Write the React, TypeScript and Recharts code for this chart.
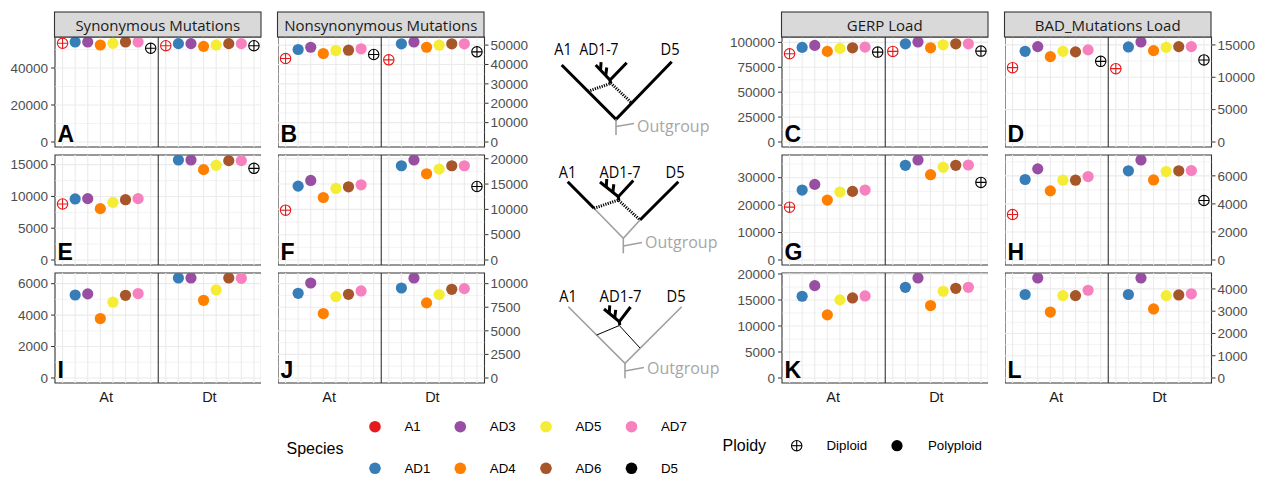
import React from "react";
import { ScatterChart, Scatter, XAxis, YAxis, ReferenceLine, ReferenceArea } from "recharts";

// ---------- data ----------
const species = ["A1", "AD1", "AD3", "AD4", "AD5", "AD6", "AD7", "D5"];
const speciesColors = ["#E41A1C", "#377EB8", "#984EA3", "#FF7F00", "#F5EC36", "#A65628", "#F781BF", "#000000"];
const diploidSpecies = ["A1", "D5"];
const subgenomes = ["At", "Dt"];
const columnTitles = ["Synonymous Mutations", "Nonsynonymous Mutations", "GERP Load", "BAD_Mutations Load"];
const panelLetters = ["A", "B", "C", "D", "E", "F", "G", "H", "I", "J", "K", "L"];

// values in species order (A1, AD1, AD3, AD4, AD5, AD6, AD7, D5); null = not shown
const A_At = [53350, 54050, 54050, 52430, 53350, 54050, 54050, 50650];
const A_Dt = [52050, 53150, 53150, 51700, 52430, 53150, 53150, 52050];
const B_At = [43070, 47720, 48900, 45660, 47200, 47360, 48090, 45140];
const B_Dt = [42400, 50670, 51600, 48900, 49950, 50670, 50670, 46530];
const C_At = [88570, 94980, 96990, 90970, 93980, 94580, 95290, 90270];
const C_Dt = [90970, 98600, 100400, 94580, 97590, 98600, 98600, 91270];
const D_At = [11490, 14010, 14740, 13190, 14010, 13920, 14230, 12460];
const D_Dt = [11330, 14690, 15450, 14120, 14630, 14740, 14740, 12680];
const E_At = [8810, 9600, 9650, 8080, 9070, 9490, 9650, null];
const E_Dt = [null, 15730, 15730, 14210, 14900, 15630, 15630, 14420];
const F_At = [9840, 14590, 15710, 12340, 14130, 14460, 14850, null];
const F_Dt = [null, 18610, 19750, 17030, 17950, 18610, 18610, 14520];
const G_At = [19270, 25490, 27560, 21830, 24760, 25000, 25490, null];
const G_Dt = [null, 34510, 36450, 31100, 33780, 34510, 34630, 28290];
const H_At = [3240, 5740, 6500, 4930, 5690, 5690, 5950, null];
const H_Dt = [null, 6360, 7130, 5710, 6310, 6360, 6380, 4240];
const I_At = [null, 5280, 5350, 3780, 4820, 5260, 5370, null];
const I_Dt = [null, 6360, 6360, 4940, 5600, 6360, 6340, null];
const J_At = [null, 8980, 10070, 6830, 8630, 8870, 9230, null];
const J_Dt = [null, 9540, 10600, 7960, 8840, 9400, 9470, null];
const K_At = [null, 15720, 17760, 12140, 15020, 15400, 15780, null];
const K_Dt = [null, 17440, 19230, 13930, 16680, 17250, 17440, null];
const L_At = [null, 3750, 4490, 2960, 3700, 3700, 3940, null];
const L_Dt = [null, 3750, 4490, 3100, 3700, 3730, 3780, null];

const ticksA = [0, 20000, 40000];
const ticksB = [0, 10000, 20000, 30000, 40000, 50000];
const ticksC = [0, 25000, 50000, 75000, 100000];
const ticksD = [0, 5000, 10000, 15000];
const ticksE = [0, 5000, 10000, 15000];
const ticksF = [0, 5000, 10000, 15000, 20000];
const ticksG = [0, 10000, 20000, 30000];
const ticksH = [0, 2000, 4000, 6000];
const ticksI = [0, 2000, 4000, 6000];
const ticksJ = [0, 2500, 5000, 7500, 10000];
const ticksK = [0, 5000, 10000, 15000, 20000];
const ticksL = [0, 1000, 2000, 3000, 4000];

const panels = [
  { at: A_At, dt: A_Dt, ticks: ticksA }, { at: B_At, dt: B_Dt, ticks: ticksB },
  { at: C_At, dt: C_Dt, ticks: ticksC }, { at: D_At, dt: D_Dt, ticks: ticksD },
  { at: E_At, dt: E_Dt, ticks: ticksE }, { at: F_At, dt: F_Dt, ticks: ticksF },
  { at: G_At, dt: G_Dt, ticks: ticksG }, { at: H_At, dt: H_Dt, ticks: ticksH },
  { at: I_At, dt: I_Dt, ticks: ticksI }, { at: J_At, dt: J_Dt, ticks: ticksJ },
  { at: K_At, dt: K_Dt, ticks: ticksK }, { at: L_At, dt: L_Dt, ticks: ticksL },
];

// ---------- layout ----------
const colLefts = [54.5, 277.5, 781.5, 1004.5];
const axisSide = ["left", "right", "left", "right"];
const axisW = [52, 52, 58, 56];
const panelW = 206.5;
const panelH = 110;
const PAD = 10;
const rowTops = [37, 155, 273.3];
const DT_OFFSET = 8.2;
const X_DOMAIN = [-0.6, 15.8];
const SANS = "'Liberation Sans', Arial, Helvetica, sans-serif";
const HUMAN = "'Open Sans', 'Noto Sans', sans-serif";
const BORDER = "#333333";
const GRID = "#EBEBEB";

function Marker({ cx, cy, color, dip }) {
  if (cx == null || cy == null) return null;
  if (dip) {
    const r = 5.2;
    return (
      <g>
        <circle cx={cx} cy={cy} r={r} fill="none" stroke={color} strokeWidth={1.1} />
        <line x1={cx - r} y1={cy} x2={cx + r} y2={cy} stroke={color} strokeWidth={1.1} />
        <line x1={cx} y1={cy - r} x2={cx} y2={cy + r} stroke={color} strokeWidth={1.1} />
      </g>
    );
  }
  return <circle cx={cx} cy={cy} r={5.6} fill={color} />;
}

function Panel({ idx }) {
  const cfg = panels[idx];
  const col = idx % 4;
  const row = Math.floor(idx / 4);
  const side = axisSide[col];
  const aw = axisW[col];
  const all = [...cfg.at, ...cfg.dt].filter((v) => v != null);
  const M = Math.max(...all);
  const lo = -0.05 * M;
  const hi = 1.05 * M;
  const step = cfg.ticks[1] - cfg.ticks[0];
  const minor = [];
  for (let v = step / 2; v <= hi; v += step) minor.push(v);
  const xCats = [...species.map((_, i) => i), ...species.map((_, i) => i + DT_OFFSET)];
  const left = side === "left" ? colLefts[col] - aw : colLefts[col];
  return (
    <div style={{ position: "absolute", left, top: rowTops[row] - PAD, width: aw + panelW, height: panelH + 2 * PAD }}>
      <ScatterChart width={aw + panelW} height={panelH + 2 * PAD} margin={{ top: PAD, right: 0, bottom: PAD, left: 0 }}>
        <XAxis type="number" dataKey="x" domain={X_DOMAIN} hide allowDataOverflow />
        <YAxis
          type="number"
          dataKey="y"
          domain={[lo, hi]}
          allowDataOverflow
          ticks={cfg.ticks}
          interval={0}
          orientation={side}
          width={aw}
          axisLine={false}
          tickLine={{ stroke: BORDER, strokeWidth: 1 }}
          tickSize={4}
          tickMargin={side === "left" ? 3 : 2}
          tickFormatter={(v) => String(v)}
          tick={{ fontSize: 13.5, fill: "#4D4D4D", fontFamily: SANS }}
        />
        {minor.map((v) => (
          <ReferenceLine key={"mi" + v} y={v} stroke={GRID} strokeWidth={0.6} />
        ))}
        {cfg.ticks.map((v) => (
          <ReferenceLine key={"ma" + v} y={v} stroke={GRID} strokeWidth={1.1} />
        ))}
        {xCats.map((v) => (
          <ReferenceLine key={"x" + v} x={v} stroke={GRID} strokeWidth={1.1} />
        ))}
        {species.map((sp, i) => {
          const pts = [];
          if (cfg.at[i] != null) pts.push({ x: i, y: cfg.at[i] });
          if (cfg.dt[i] != null) pts.push({ x: i + DT_OFFSET, y: cfg.dt[i] });
          const color = speciesColors[i];
          const dip = diploidSpecies.includes(sp);
          return (
            <Scatter
              key={sp}
              name={sp}
              data={pts}
              fill={color}
              isAnimationActive={false}
              shape={(p) => <Marker cx={p.cx} cy={p.cy} color={color} dip={dip} />}
            />
          );
        })}
        <ReferenceLine x={7.6} stroke={BORDER} strokeWidth={1.1} ifOverflow="visible" />
        <ReferenceArea
          x1={X_DOMAIN[0]}
          x2={X_DOMAIN[1]}
          y1={lo}
          y2={hi}
          fill="none"
          fillOpacity={0}
          stroke={BORDER}
          strokeWidth={1.1}
          ifOverflow="visible"
        />
      </ScatterChart>
    </div>
  );
}

function Trees() {
  const blk = { stroke: "#000", strokeWidth: 3, fill: "none", strokeLinecap: "butt" };
  const dot = { stroke: "#000", strokeWidth: 3, fill: "none", strokeDasharray: "1.2 1.2" };
  const gry = { stroke: "#A0A0A0", strokeWidth: 1.6, fill: "none" };
  const thin = { stroke: "#000", strokeWidth: 1, fill: "none" };
  const lab = { fontFamily: HUMAN, fontSize: 15.5, fill: "#000", textAnchor: "middle", dominantBaseline: "central", lengthAdjust: "spacingAndGlyphs" };
  const out = { fontFamily: HUMAN, fontSize: 16, fill: "#A6A6A6", dominantBaseline: "central" };
  const clade = (nx, ny, lx, ly, rx, ry) => {
    const t1x = nx + (lx - nx) * 0.66, t1y = ny + (ly - ny) * 0.66;
    const t2x = nx + (lx - nx) * 0.3, t2y = ny + (ly - ny) * 0.3;
    return (
      <g>
        <path d={`M${lx},${ly} L${nx},${ny} L${rx},${ry}`} {...blk} />
        <path d={`M${t1x},${t1y} L${t1x + 0.5},${t1y - 8}`} {...blk} />
        <path d={`M${t2x},${t2y} L${t2x + 1},${t2y - 8}`} {...blk} />
        <path d={`M${nx},${ny} L${nx + 0.5},${ny + 3.5}`} {...blk} />
      </g>
    );
  };
  return (
    <g>
      {/* tree 1 */}
      <text x={563} y={49} textLength={17.5} {...lab}>A1</text>
      <text x={599} y={49} textLength={39} {...lab}>AD1-7</text>
      <text x={670} y={49} textLength={19} {...lab}>D5</text>
      <path d="M561.7,65 L616,119.3 L671.7,61.7" {...blk} />
      <path d="M616,119.3 L616,135" {...gry} />
      <path d="M616,126.5 L634,123.5" {...gry} />
      <text x={637} y={126} {...out}>Outgroup</text>
      {clade(610, 80, 595.7, 65, 626.7, 62.7)}
      <path d="M588,91.3 L611,83.3 L631.7,103" {...dot} />

      {/* tree 2 */}
      <text x={567.5} y={172} textLength={17.5} {...lab}>A1</text>
      <text x={620} y={172} textLength={41} {...lab}>AD1-7</text>
      <text x={675} y={172} textLength={19} {...lab}>D5</text>
      <path d="M567.7,181.7 L594,208.3" {...blk} />
      <path d="M678.3,181.7 L640,220" {...blk} />
      <path d="M594,208.3 L623.3,238.3 L640,220" {...gry} />
      <path d="M623.3,238.3 L623.3,253.3" {...gry} />
      <path d="M623.3,246 L642,242.5" {...gry} />
      <text x={645} y={242} {...out}>Outgroup</text>
      {clade(618.3, 196.7, 600, 182, 633.3, 180.5)}
      <path d="M594,208.3 L618.3,200 L640,220" {...dot} />

      {/* tree 3 */}
      <text x={568} y={296} textLength={17.5} {...lab}>A1</text>
      <text x={620.5} y={296} textLength={42} {...lab}>AD1-7</text>
      <text x={676} y={296} textLength={19} {...lab}>D5</text>
      <path d="M568.3,306.7 L625,363.3 L681.7,306.7" {...gry} />
      <path d="M625,363.3 L625,378.3" {...gry} />
      <path d="M625,371 L644,367.5" {...gry} />
      <text x={647} y={368} {...out}>Outgroup</text>
      {clade(619.3, 321.7, 604, 309, 630.5, 307)}
      <path d="M596.7,335 L619.3,325.5 L640,348" {...thin} />
    </g>
  );
}

function Overlay() {
  const legendRows = [426.7, 468.3];
  const legendColX = [375, 460.3, 546, 631.5];
  return (
    <svg width={1265} height={477} style={{ position: "absolute", left: 0, top: 0, pointerEvents: "none" }}>
      {/* strips */}
      {columnTitles.map((t, c) => (
        <g key={t}>
          <rect x={colLefts[c]} y={12} width={panelW} height={25} fill="#D9D9D9" stroke={BORDER} strokeWidth={1.1} />
          <text
            x={colLefts[c] + panelW / 2}
            y={25}
            textAnchor="middle"
            dominantBaseline="central"
            fontFamily={HUMAN}
            fontSize={15}
            fill="#1A1A1A"
          >
            {t}
          </text>
        </g>
      ))}
      {/* panel letters */}
      {panelLetters.map((l, i) => {
        const c = i % 4;
        const r = Math.floor(i / 4);
        return (
          <text key={l} x={colLefts[c] + 3} y={rowTops[r] + panelH - 5.5} fontFamily={SANS} fontWeight="bold" fontSize={23} fill="#000">
            {l}
          </text>
        );
      })}
      {/* subgenome labels */}
      {colLefts.map((cl, c) =>
        subgenomes.map((s, k) => (
          <text key={c + s} x={cl + (panelW * (1 + 2 * k)) / 4} y={401.5} textAnchor="middle" fontFamily={SANS} fontSize={14.5} fill="#1A1A1A">
            {s}
          </text>
        ))
      )}
      <Trees />
      {/* legend: species */}
      <text x={286.5} y={448} dominantBaseline="central" fontFamily={SANS} fontSize={16} fill="#000">Species</text>
      {species.map((sp, i) => {
        const cx = legendColX[Math.floor(i / 2)];
        const cy = legendRows[i % 2];
        return (
          <g key={"lg" + sp}>
            <circle cx={cx} cy={cy} r={5.8} fill={speciesColors[i]} />
            <text x={cx + 29.5} y={cy} dominantBaseline="central" fontFamily={SANS} fontSize={13.3} fill="#000">
              {sp}
            </text>
          </g>
        );
      })}
      {/* legend: ploidy */}
      <text x={722.5} y={445.5} dominantBaseline="central" fontFamily={SANS} fontSize={16} fill="#000">Ploidy</text>
      <Marker cx={796.7} cy={445.7} color="#000" dip={true} />
      <text x={826.5} y={445.7} dominantBaseline="central" fontFamily={SANS} fontSize={13.3} fill="#000">Diploid</text>
      <Marker cx={897} cy={445.7} color="#000" dip={false} />
      <text x={928} y={445.7} dominantBaseline="central" fontFamily={SANS} fontSize={13.3} fill="#000">Polyploid</text>
    </svg>
  );
}

export default function App() {
  return (
    <div style={{ position: "absolute", left: 0, top: 0, width: 1265, height: 477, background: "#fff", overflow: "hidden" }}>
      {panels.map((_, i) => (
        <Panel key={i} idx={i} />
      ))}
      <Overlay />
    </div>
  );
}
